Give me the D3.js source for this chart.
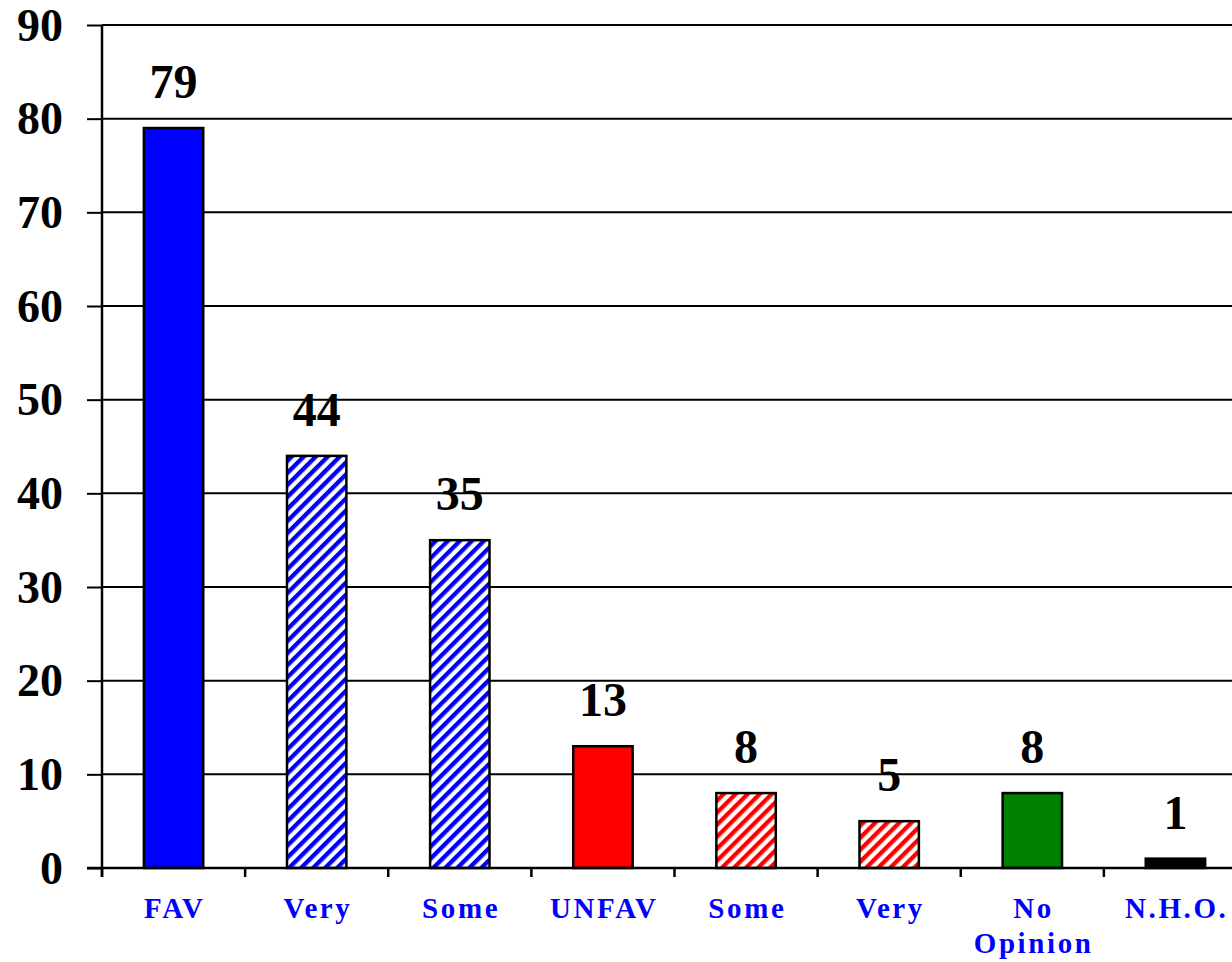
<!DOCTYPE html>
<html>
<head>
<meta charset="utf-8">
<script src="https://cdn.jsdelivr.net/npm/d3@7"></script>
<style>
  html, body { margin: 0; padding: 0; background: #fff; }
  svg { display: block; }
</style>
</head>
<body>
<svg id="chart" width="1232" height="962"></svg>
<script>
// ---- data ----
const categories = ["FAV", "Very", "Some", "UNFAV", "Some", "Very", "No\nOpinion", "N.H.O."];
const values = [79, 44, 35, 13, 8, 5, 8, 1];
const fills = ["solid-blue", "hatch-blue", "hatch-blue", "solid-red", "hatch-red", "hatch-red", "solid-green", "solid-black"];
const yTicks = [0, 10, 20, 30, 40, 50, 60, 70, 80, 90];

// ---- layout ----
const svg = d3.select("#chart");
const plotLeft = 102, plotRight = 1247, plotTop = 25, plotBottom = 868;
const serif = "'Liberation Serif', 'Times New Roman', Times, serif";

const x = d3.scaleBand()
  .domain(d3.range(categories.length))
  .range([plotLeft, plotRight])
  .paddingInner(0.585)
  .paddingOuter(0.2925);
const y = d3.scaleLinear().domain([0, 90]).range([plotBottom, plotTop]);

// patterns
const defs = svg.append("defs");
function hatch(id, color) {
  const p = defs.append("pattern")
    .attr("id", id)
    .attr("patternUnits", "userSpaceOnUse")
    .attr("width", 8.5).attr("height", 8.5)
    .attr("patternTransform", "rotate(45)");
  p.append("rect").attr("width", 8.5).attr("height", 8.5).attr("fill", "#fff");
  p.append("rect").attr("width", 4.3).attr("height", 8.5).attr("fill", color);
}
hatch("hatch-blue", "#0000ff");
hatch("hatch-red", "#ff0000");
const fillMap = {
  "solid-blue": "#0000ff",
  "solid-red": "#ff0000",
  "solid-green": "#008000",
  "solid-black": "#000000",
  "hatch-blue": "url(#hatch-blue)",
  "hatch-red": "url(#hatch-red)"
};

// gridlines
svg.append("g")
  .selectAll("line")
  .data(yTicks.filter(d => d > 0))
  .join("line")
  .attr("x1", plotLeft).attr("x2", 1232)
  .attr("y1", d => y(d)).attr("y2", d => y(d))
  .attr("stroke", "#000").attr("stroke-width", 2);

// y axis
const yAxis = svg.append("g")
  .attr("transform", `translate(${plotLeft},0)`)
  .call(d3.axisLeft(y).tickValues(yTicks).tickSize(15).tickPadding(24).tickFormat(d3.format("d")));
yAxis.select(".domain").attr("stroke", "#000").attr("stroke-width", 2.5).attr("d", `M0,${plotTop}V${plotBottom + 9}`);
yAxis.selectAll(".tick line").attr("stroke", "#000").attr("stroke-width", 2);
yAxis.selectAll(".tick text")
  .attr("font-family", serif).attr("font-weight", "bold").attr("font-size", 46)
  .attr("fill", "#000").attr("dy", "0.33em");

// bars
svg.append("g")
  .selectAll("rect")
  .data(values)
  .join("rect")
  .attr("x", (d, i) => x(i))
  .attr("width", x.bandwidth())
  .attr("y", d => y(d))
  .attr("height", d => y(0) - y(d))
  .attr("fill", (d, i) => fillMap[fills[i]])
  .attr("stroke", "#000").attr("stroke-width", 2.5);

// x baseline and ticks
svg.append("line")
  .attr("x1", plotLeft - 15).attr("x2", 1232)
  .attr("y1", y(0)).attr("y2", y(0))
  .attr("stroke", "#000").attr("stroke-width", 2.5);
const boundaries = d3.range(categories.length + 1).map(i => plotLeft + i * x.step());
svg.append("g")
  .selectAll("line")
  .data(boundaries)
  .join("line")
  .attr("x1", d => d).attr("x2", d => d)
  .attr("y1", y(0)).attr("y2", y(0) + 9)
  .attr("stroke", "#000").attr("stroke-width", 2.5);

// value labels
svg.append("g")
  .selectAll("text")
  .data(values)
  .join("text")
  .attr("x", (d, i) => x(i) + x.bandwidth() / 2)
  .attr("y", d => y(d) - 30)
  .attr("text-anchor", "middle")
  .attr("font-family", serif).attr("font-weight", "bold").attr("font-size", 48)
  .attr("fill", "#000")
  .text(d => d);

// category labels
const catG = svg.append("g");
categories.forEach((c, i) => {
  const t = catG.append("text")
    .attr("text-anchor", "middle")
    .attr("font-family", serif).attr("font-weight", "bold").attr("font-size", 29)
    .attr("letter-spacing", "2.6px")
    .attr("fill", "#0000ff");
  c.split("\n").forEach((line, j) => {
    t.append("tspan")
      .attr("x", x(i) + x.bandwidth() / 2 + 1.3)
      .attr("y", 918 + j * 35)
      .text(line);
  });
});
</script>
</body>
</html>
